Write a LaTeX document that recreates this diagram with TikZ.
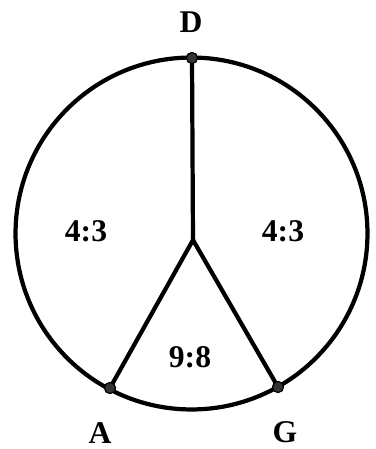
\documentclass[tikz,border=0pt]{standalone}
\usepackage{fontspec}
\setmainfont{Liberation Serif}
\usepackage{tikz}
\usetikzlibrary{positioning,calc}

\begin{document}
\begin{tikzpicture}[x=0.02cm, y=-0.02cm,
    vertex/.style={circle, fill=black!80, draw=black, line width=0.6pt,
      inner sep=0pt, minimum size=0.22cm},
    lbl/.style={font=\fontsize{18}{21}\selectfont\bfseries},
    edge/.style={line width=2.4pt}]
    \useasboundingbox (0,0) rectangle (375,449);

    % Circle
    \draw[edge] (191.5,233.5) circle[radius=3.52cm];

    % Points on the circle and the inner junction
    \coordinate (O) at (193,240);
    \node[vertex] (D) at (192,58) {};
    \node[vertex] (A) at (110,388) {};
    \node[vertex] (G) at (278,387) {};

    % Spokes
    \draw[edge, line join=miter] (D.center) -- (O) -- (A.center);
    \draw[edge, line join=miter] (O) -- (G.center);
    \node[vertex] at (D) {};
    \node[vertex] at (A) {};
    \node[vertex] at (G) {};

    % Labels
    \node[lbl] (labD) at (191,22) {D};
    \node[lbl] (labA) at (100,433) {A};
    \node[lbl] (labG) at (285,432) {G};
    \node[lbl] (left) at (86,231) {4:3};
    \node[lbl] (right) at (283,231) {4:3};
    \node[lbl] (bottom) at (190,357) {9:8};
  \end{tikzpicture}
\end{document}
